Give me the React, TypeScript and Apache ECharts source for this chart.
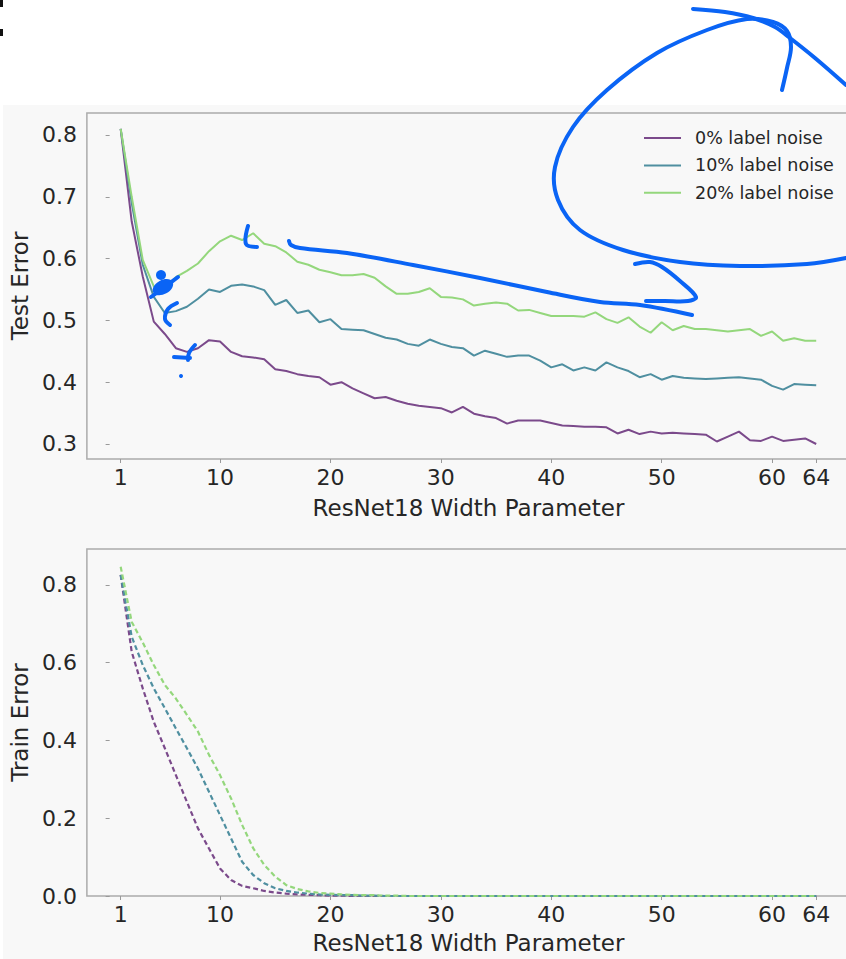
import React, { useEffect, useRef } from 'react';
import * as echarts from 'echarts';

const widths = [1, 2, 3, 4, 5, 6, 7, 8, 9, 10, 11, 12, 13, 14, 15, 16, 17, 18, 19, 20, 21, 22, 23, 24, 25, 26, 27, 28, 29, 30, 31, 32, 33, 34, 35, 36, 37, 38, 39, 40, 41, 42, 43, 44, 45, 46, 47, 48, 49, 50, 51, 52, 53, 54, 55, 56, 57, 58, 59, 60, 61, 62, 63, 64];

const seriesNames = ['0% label noise', '10% label noise', '20% label noise'];

const testErr0 = [0.81, 0.66, 0.571, 0.498, 0.478, 0.455, 0.449, 0.455, 0.468, 0.466, 0.449, 0.442, 0.44, 0.437, 0.421, 0.418, 0.413, 0.41, 0.408, 0.396, 0.40, 0.39, 0.382, 0.374, 0.376, 0.37, 0.365, 0.362, 0.36, 0.358, 0.351, 0.36, 0.349, 0.345, 0.342, 0.333, 0.338, 0.338, 0.338, 0.334, 0.33, 0.329, 0.328, 0.328, 0.327, 0.317, 0.323, 0.316, 0.32, 0.317, 0.318, 0.317, 0.316, 0.315, 0.304, 0.312, 0.32, 0.306, 0.305, 0.312, 0.305, 0.307, 0.309, 0.30];
const testErr10 = [0.81, 0.69, 0.59, 0.538, 0.512, 0.515, 0.522, 0.535, 0.55, 0.546, 0.556, 0.558, 0.555, 0.549, 0.525, 0.533, 0.512, 0.516, 0.497, 0.502, 0.486, 0.485, 0.484, 0.478, 0.472, 0.469, 0.462, 0.459, 0.469, 0.462, 0.457, 0.455, 0.443, 0.451, 0.446, 0.441, 0.443, 0.443, 0.435, 0.424, 0.429, 0.419, 0.424, 0.419, 0.432, 0.424, 0.418, 0.408, 0.413, 0.404, 0.41, 0.407, 0.406, 0.405, 0.406, 0.407, 0.408, 0.406, 0.404, 0.394, 0.388, 0.397, 0.396, 0.395];
const testErr20 = [0.81, 0.70, 0.598, 0.555, 0.553, 0.57, 0.58, 0.592, 0.612, 0.628, 0.637, 0.63, 0.641, 0.624, 0.62, 0.61, 0.595, 0.59, 0.582, 0.578, 0.573, 0.573, 0.575, 0.569, 0.555, 0.543, 0.543, 0.546, 0.552, 0.538, 0.537, 0.534, 0.524, 0.527, 0.529, 0.527, 0.516, 0.517, 0.512, 0.507, 0.507, 0.507, 0.506, 0.513, 0.502, 0.496, 0.505, 0.49, 0.48, 0.497, 0.484, 0.491, 0.486, 0.486, 0.484, 0.482, 0.484, 0.486, 0.475, 0.482, 0.467, 0.471, 0.467, 0.467];

const trainErr0 = [0.826, 0.628, 0.534, 0.448, 0.38, 0.311, 0.242, 0.174, 0.122, 0.071, 0.041, 0.026, 0.02, 0.013, 0.009, 0.006, 0.004, 0.003, 0.002, 0.001, 0.001, 0, 0, 0, 0, 0, 0, 0, 0, 0, 0, 0, 0, 0, 0, 0, 0, 0, 0, 0, 0, 0, 0, 0, 0, 0, 0, 0, 0, 0, 0, 0, 0, 0, 0, 0, 0, 0, 0, 0, 0, 0, 0, 0];
const trainErr10 = [0.826, 0.667, 0.594, 0.534, 0.483, 0.431, 0.38, 0.328, 0.268, 0.208, 0.148, 0.088, 0.054, 0.033, 0.02, 0.013, 0.009, 0.006, 0.004, 0.003, 0.002, 0.002, 0.001, 0.001, 0, 0, 0, 0, 0, 0, 0, 0, 0, 0, 0, 0, 0, 0, 0, 0, 0, 0, 0, 0, 0, 0, 0, 0, 0, 0, 0, 0, 0, 0, 0, 0, 0, 0, 0, 0, 0, 0, 0, 0];
const trainErr20 = [0.847, 0.705, 0.652, 0.594, 0.543, 0.508, 0.466, 0.423, 0.363, 0.311, 0.251, 0.183, 0.123, 0.08, 0.05, 0.028, 0.018, 0.012, 0.008, 0.006, 0.004, 0.003, 0.002, 0.002, 0.001, 0.001, 0, 0, 0, 0, 0, 0, 0, 0, 0, 0, 0, 0, 0, 0, 0, 0, 0, 0, 0, 0, 0, 0, 0, 0, 0, 0, 0, 0, 0, 0, 0, 0, 0, 0, 0, 0, 0, 0];

const xTicks = [1, 10, 20, 30, 40, 50, 60, 64];
const testTicks = [0.3, 0.4, 0.5, 0.6, 0.7, 0.8];
const trainTicks = [0, 0.2, 0.4, 0.6, 0.8];

const colors = ['#7b4a8b', '#4f8fa0', '#94d77c'];
const FONT = 'DejaVu Sans';
const INK = '#262626';
const PEN = '#0a64f5';

// hand-drawn pen annotations (screen coordinates)
const penStrokes: number[][][] = [
  [[693, 9], [725, 12], [753, 18], [775, 27], [790, 38], [815, 58], [846, 85]],
  [[782, 90], [787, 68], [791, 47], [787, 31], [773, 22], [747, 19], [707, 30], [657, 53], [607, 90], [573, 127], [555, 167], [558, 200], [580, 230], [623, 250], [680, 262], [740, 266], [807, 264], [846, 258]],
  [[289, 241], [291, 245], [300, 248], [347, 253], [413, 265], [480, 278], [547, 292], [600, 302], [640, 305], [692, 315]],
  [[635, 264], [650, 262], [662, 267], [680, 281], [696, 297], [688, 301], [665, 301], [646, 301]],
  [[248, 226], [246, 244], [257, 247]],
  [[177, 303], [168, 309], [165, 319], [170, 325]],
  [[195, 345], [189, 353], [188, 360]],
  [[174, 357], [190, 358]],
  [[151, 297], [162, 289], [178, 277]],
];

export default function App() {
  const ref = useRef<HTMLDivElement>(null);
  useEffect(() => {
    const chart = echarts.init(ref.current!, null, { renderer: 'svg' });
    const axisCommonX = (gridIndex: number) => ({
      type: 'value',
      gridIndex,
      min: -2.06,
      max: 67.06,
      axisLine: { show: false },
      splitLine: { show: false },
      axisTick: { show: true, length: 4, customValues: xTicks, lineStyle: { color: '#9a9a9a', width: 1 } },
      axisLabel: { customValues: xTicks, fontSize: 22, color: INK, fontFamily: FONT, margin: 7 },
      name: 'ResNet18 Width Parameter',
      nameLocation: 'middle',
      nameGap: gridIndex === 0 ? 37 : 35,
      nameTextStyle: { fontSize: 23, color: INK, fontFamily: FONT },
    });
    const mkY = (gridIndex: number, min: number, max: number, ticks: number[], name: string) => ({
      type: 'value',
      gridIndex,
      min,
      max,
      axisLine: { show: false },
      splitLine: { show: false },
      axisTick: { show: true, length: 4, customValues: ticks, lineStyle: { color: '#9a9a9a', width: 1 } },
      axisLabel: {
        customValues: ticks,
        fontSize: 22,
        color: INK,
        fontFamily: FONT,
        margin: 10,
        formatter: (v: number) => v.toFixed(1),
      },
      name,
      nameLocation: 'middle',
      nameGap: 51,
      nameTextStyle: { fontSize: 23, color: INK, fontFamily: FONT },
    });
    const testData = [testErr0, testErr10, testErr20];
    const trainData = [trainErr0, trainErr10, trainErr20];
    const graphics: any[] = penStrokes.map((pts) => ({
      type: 'polyline',
      z: 100,
      shape: { points: pts, smooth: 0.35 },
      style: { stroke: PEN, lineWidth: 4, fill: null, lineCap: 'round', lineJoin: 'round' },
    }));
    graphics.push(
      { type: 'ellipse', z: 100, shape: { cx: 163, cy: 287, rx: 11, ry: 7 }, rotation: 0.5, originX: 163, originY: 287, style: { fill: PEN } },
      { type: 'circle', z: 100, shape: { cx: 161, cy: 275, r: 5 }, style: { fill: PEN } },
      { type: 'circle', z: 100, shape: { cx: 181, cy: 376, r: 2 }, style: { fill: PEN } },
      { type: 'rect', z: 100, shape: { x: 0, y: 0, width: 3, height: 7 }, style: { fill: '#111' } },
      { type: 'rect', z: 100, shape: { x: 0, y: 29, width: 3, height: 7 }, style: { fill: '#111' } },
    );
    chart.setOption({
      animation: false,
      backgroundColor: 'transparent',
      textStyle: { fontFamily: FONT },
      grid: [
        { left: 82, top: 113, width: 768, height: 346, show: true, backgroundColor: '#f8f8f8', borderColor: '#ababab', borderWidth: 1.5 },
        { left: 82, top: 549, width: 768, height: 347, show: true, backgroundColor: '#f8f8f8', borderColor: '#ababab', borderWidth: 1.5 },
      ],
      xAxis: [axisCommonX(0), axisCommonX(1)],
      yAxis: [
        mkY(0, 0.2757, 0.8356, testTicks, 'Test Error'),
        mkY(1, 0, 0.8926, trainTicks, 'Train Error'),
      ],
      legend: {
        orient: 'vertical',
        left: 643,
        top: 129,
        padding: 0,
        itemWidth: 37,
        itemHeight: 14,
        itemGap: 9.4,
        data: seriesNames,
        itemStyle: { opacity: 0 },
        textStyle: { fontSize: 17.5, color: INK, fontFamily: FONT, padding: [0, 0, 0, 9] },
      },
      series: [
        ...testData.map((arr, k) => ({
          type: 'line',
          name: seriesNames[k],
          xAxisIndex: 0,
          yAxisIndex: 0,
          symbol: 'none',
          data: widths.map((w, i) => [w, arr[i]]),
          lineStyle: { color: colors[k], width: 2 },
          itemStyle: { color: colors[k] },
        })),
        ...trainData.map((arr, k) => ({
          type: 'line',
          name: seriesNames[k] + ' (train)',
          xAxisIndex: 1,
          yAxisIndex: 1,
          symbol: 'none',
          data: widths.map((w, i) => [w, arr[i]]),
          lineStyle: { color: colors[k], width: 2.2, type: [5, 3] },
          itemStyle: { color: colors[k] },
        })),
      ],
      graphic: graphics,
    });
    return () => chart.dispose();
  }, []);
  return (
    <div style={{ position: 'fixed', left: 0, top: 0, width: 860, height: 959, overflow: 'hidden', background: '#ffffff' }}>
      <div style={{ position: 'absolute', left: 3, top: 105, right: 0, bottom: 0, background: '#f8f8f8' }} />
      <div ref={ref} style={{ position: 'absolute', left: 0, top: 0, width: 860, height: 959 }} />
    </div>
  );
}
